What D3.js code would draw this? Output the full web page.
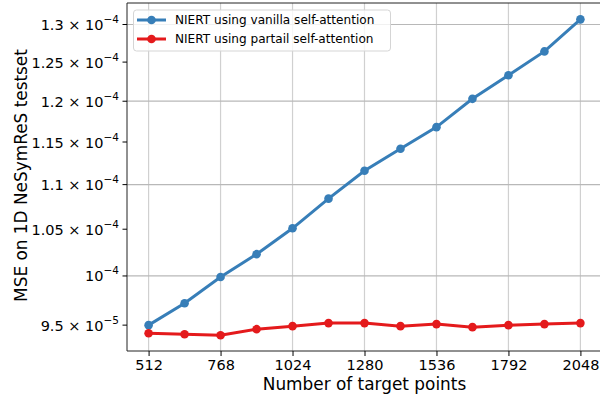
<!DOCTYPE html>
<html><head><meta charset="utf-8">
<script src="https://cdn.jsdelivr.net/npm/d3@7"></script>
<style>body{margin:0;background:#fff}svg{display:block}text{font-family:"DejaVu Sans",sans-serif;fill:#000}</style>
</head><body><svg id="c" width="600" height="396"></svg>
<script>
const points = [512,640,768,896,1024,1152,1280,1408,1536,1664,1792,1920,2048];
const vanilla = [9.50e-5,9.72e-5,9.99e-5,1.023e-4,1.051e-4,1.084e-4,1.116e-4,1.142e-4,1.168e-4,1.203e-4,1.233e-4,1.264e-4,1.307e-4];
const partial = [9.42e-5,9.41e-5,9.40e-5,9.46e-5,9.49e-5,9.52e-5,9.52e-5,9.49e-5,9.51e-5,9.48e-5,9.50e-5,9.51e-5,9.52e-5];
const seriesNames = ["NIERT using vanilla self-attention","NIERT using partail self-attention"];
const seriesColors = ["#377eb8","#e41a1c"];
const xTicks = [512,768,1024,1280,1536,1792,2048];
const yTicks = [9.5e-5,1.0e-4,1.05e-4,1.1e-4,1.15e-4,1.2e-4,1.25e-4,1.3e-4];
const yTickMant = ["9.5","","1.05","1.1","1.15","1.2","1.25","1.3"];
const yTickExp = ["−5","−4","−4","−4","−4","−4","−4","−4"];
const yGrid = [1.0e-4,1.1e-4,1.2e-4,1.3e-4];

const svg = d3.select("#c");
const L=127, R=602, T=3, B=351;
const x = d3.scaleLinear().domain([435.2,2124.8]).range([L,R]);
const y = d3.scaleLog().domain([9.247e-5,1.3295e-4]).range([B,T]);

// grid
svg.append("g").selectAll("line").data(xTicks).join("line")
  .attr("x1",d=>x(d)).attr("x2",d=>x(d)).attr("y1",T).attr("y2",B)
  .attr("stroke","#d0d0d0").attr("stroke-width",1.2);
svg.append("g").selectAll("line").data(yGrid).join("line")
  .attr("x1",L).attr("x2",R).attr("y1",d=>y(d)).attr("y2",d=>y(d))
  .attr("stroke","#b8b8b8").attr("stroke-width",1.2);

// spines
svg.append("line").attr("x1",L).attr("x2",L).attr("y1",T).attr("y2",B).attr("stroke","#222").attr("stroke-width",1);
svg.append("line").attr("x1",L).attr("x2",R).attr("y1",B).attr("y2",B).attr("stroke","#222").attr("stroke-width",1);
svg.append("line").attr("x1",L).attr("x2",R).attr("y1",T).attr("y2",T).attr("stroke","#222").attr("stroke-width",1);

// x axis
const xa = svg.append("g").attr("transform",`translate(0,${B})`)
  .call(d3.axisBottom(x).tickValues(xTicks).tickSize(5).tickPadding(4).tickFormat(d3.format("d")));
xa.select(".domain").remove();
xa.selectAll("text").attr("font-size","14.5px").attr("font-family","DejaVu Sans");

// y axis ticks
const yt = svg.append("g");
yTicks.forEach((v,i)=>{
  const yy = y(v);
  yt.append("line").attr("x1",L-4.5).attr("x2",L).attr("y1",yy).attr("y2",yy).attr("stroke","#000");
  const t = yt.append("text").attr("x",119).attr("y",yy+5.5).attr("text-anchor","end").attr("font-size","14.5px");
  if (yTickMant[i]) t.append("tspan").text(yTickMant[i]+" × 10");
  else t.append("tspan").text("10");
  t.append("tspan").attr("font-size","10.5px").attr("dy",-7).text(yTickExp[i]);
});

// axis labels
svg.append("text").attr("x",(L+R)/2).attr("y",389.5).attr("text-anchor","middle").attr("font-size","16.9px").text("Number of target points");
svg.append("text").attr("transform",`translate(27,175.5) rotate(-90)`).attr("text-anchor","middle").attr("font-size","16.9px").text("MSE on 1D NeSymReS testset");

// lines
const line = d3.line().x((d,i)=>x(points[i])).y(d=>y(d));
[vanilla,partial].forEach((s,k)=>{
  svg.append("path").datum(s).attr("d",line).attr("fill","none")
    .attr("stroke",seriesColors[k]).attr("stroke-width",3);
  svg.append("g").selectAll("circle").data(s).join("circle")
    .attr("cx",(d,i)=>x(points[i])).attr("cy",d=>y(d)).attr("r",4.3).attr("fill",seriesColors[k]);
});

// legend
const lg = svg.append("g");
lg.append("rect").attr("x",133.5).attr("y",10).attr("width",257).attr("height",41).attr("rx",3)
  .attr("fill","#fff").attr("fill-opacity",0.8).attr("stroke","#d5d5d5").attr("stroke-width",1);
seriesNames.forEach((n,k)=>{
  const yy = 20 + k*19;
  lg.append("line").attr("x1",137).attr("x2",166).attr("y1",yy).attr("y2",yy).attr("stroke",seriesColors[k]).attr("stroke-width",3);
  lg.append("circle").attr("cx",151.5).attr("cy",yy).attr("r",4.3).attr("fill",seriesColors[k]);
  lg.append("text").attr("x",175).attr("y",yy+4.3).attr("font-size","12.1px").text(n);
});
</script></body></html>
